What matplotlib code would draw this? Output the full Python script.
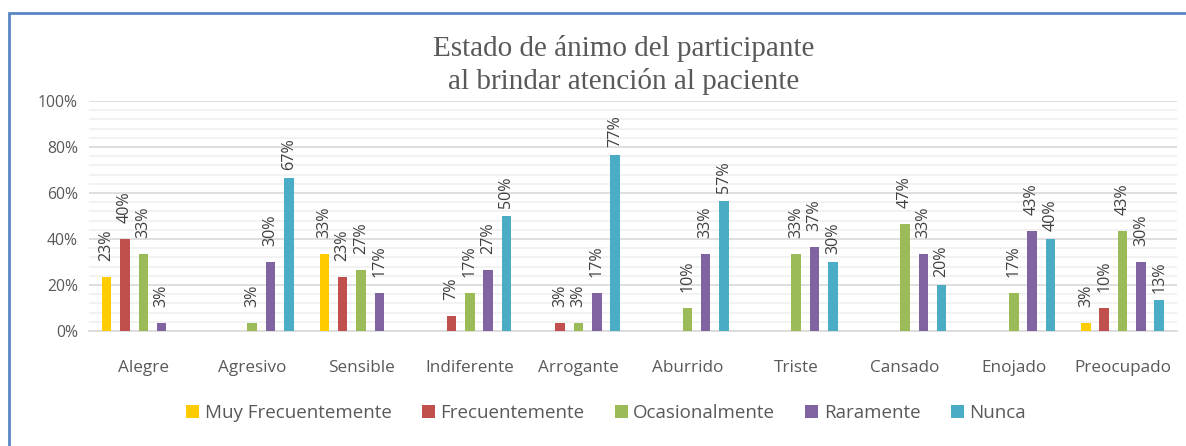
import matplotlib
matplotlib.use("Agg")
import matplotlib.pyplot as plt
import numpy as np
from matplotlib.patches import Rectangle
from matplotlib.ticker import MultipleLocator, PercentFormatter

categories = ["Alegre", "Agresivo", "Sensible", "Indiferente", "Arrogante",
              "Aburrido", "Triste", "Cansado", "Enojado", "Preocupado"]
series_names = ["Muy Frecuentemente", "Frecuentemente", "Ocasionalmente", "Raramente", "Nunca"]
muy_frecuentemente = [23.3, 0, 33.3, 0, 0, 0, 0, 0, 0, 3.3]
frecuentemente     = [40.0, 0, 23.3, 6.7, 3.3, 0, 0, 0, 0, 10.0]
ocasionalmente     = [33.3, 3.3, 26.7, 16.7, 3.3, 10.0, 33.3, 46.7, 16.7, 43.3]
raramente          = [3.3, 30.0, 16.7, 26.7, 16.7, 33.3, 36.7, 33.3, 43.3, 30.0]
nunca              = [0, 66.7, 0, 50.0, 76.7, 56.7, 30.0, 20.0, 40.0, 13.3]
colors = ["#FFCC00", "#C0504D", "#9BBB59", "#8064A2", "#4BACC6"]
title = "Estado de ánimo del participante\nal brindar atención al paciente"

series = [muy_frecuentemente, frecuentemente, ocasionalmente, raramente, nunca]
label_gap = [11.5, 11.5, 11.5, 11.5, 5.5]

fig = plt.figure(figsize=(11.86, 4.46), dpi=100)
ax = fig.add_axes([0.075, 0.2578, 0.9174, 0.5157])

x = np.arange(len(categories))
step = 0.1685
width = 0.088
for i, (vals, c, name) in enumerate(zip(series, colors, series_names)):
    pos = x + (i - 2) * step
    ax.bar(pos, vals, width=width, color=c, label=name, zorder=3)
    for p, v in zip(pos, vals):
        if v > 0:
            ax.annotate(f"{v:.0f}%", xy=(p, v), xytext=(0, label_gap[i]),
                        textcoords="offset points", rotation=90, ha="center", va="bottom",
                        fontsize=11.6, color="#404040", family="Open Sans", zorder=4)

ax.set_xlim(-0.5, len(categories) - 0.5)
ax.set_ylim(0, 100)
ax.yaxis.set_major_locator(MultipleLocator(20))
ax.yaxis.set_minor_locator(MultipleLocator(4))
ax.yaxis.set_major_formatter(PercentFormatter(decimals=0))
ax.grid(axis="y", which="major", color="#D9D9D9", linewidth=1.2, zorder=0)
ax.grid(axis="y", which="minor", color="#F0F0F0", linewidth=1.2, zorder=0)
for s in ["top", "right", "left"]:
    ax.spines[s].set_visible(False)
ax.spines["bottom"].set_color("#D9D9D9")
ax.spines["bottom"].set_linewidth(1.2)
ax.tick_params(axis="both", which="both", length=0, colors="#595959")
ax.tick_params(axis="x", pad=21, labelsize=12.3)
ax.tick_params(axis="y", pad=8, labelsize=11.3)
ax.set_xticks(x)
ax.set_xticklabels(categories, family="Open Sans")
for lab in ax.get_yticklabels():
    lab.set_family("Open Sans")

fig.text(0.526, 0.855, title, ha="center", va="center", fontsize=21,
         family="Liberation Serif", color="#595959", linespacing=1.3)

leg = fig.legend(loc="center", bbox_to_anchor=(0.511, 0.074), ncol=5, frameon=False,
                 prop={"family": "Open Sans", "size": 13.5}, handlelength=0.7,
                 handleheight=0.7, handletextpad=0.3, columnspacing=1.6)
for t in leg.get_texts():
    t.set_color("#595959")

fig.patches.append(Rectangle((9 / 1186, -0.2), 1.2, 1.2 - 13 / 446, transform=fig.transFigure,
                             fill=False, edgecolor="#5B86C5", linewidth=2))

fig.savefig("out.png", dpi=100)
